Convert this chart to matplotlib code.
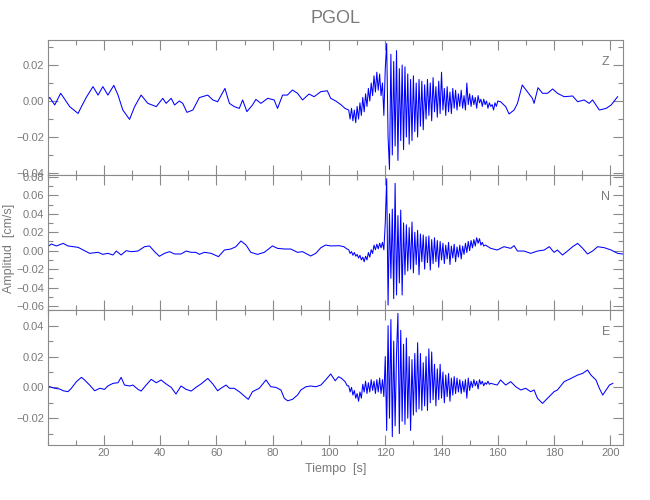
import numpy as np
import matplotlib
matplotlib.use("Agg")
import matplotlib.pyplot as plt
from matplotlib.ticker import MultipleLocator, FuncFormatter

# ---------------- data (values in 1e-3 cm/s) ----------------
station = "PGOL"
components = ["Z", "N", "E"]
burst_step = 0.5

z_pre_t = [0, 0.7, 2.5, 4.6, 6.1, 7.8, 10.8, 12.0, 13.7, 16.1, 17.9, 19.6, 21.4, 23.5, 25.0, 26.7, 29.1, 30.9, 33.2, 35.6,
           38.6, 40.9, 42.1, 43.9, 45.1, 46.8, 48.0, 49.5, 51.6, 53.9, 56.9, 58.7, 60.4, 63.0, 64.6, 66.3, 68.1, 69.3, 70.8, 72.8,
           74.0, 75.8, 78.2, 80.5, 81.7, 83.5, 85.2, 87.0, 88.8, 90.6, 92.9, 94.7, 97.1, 99.4, 100.6, 102.4, 104.2, 105.7]
z_pre_v = [0.6, 2.0, -2.2, 4.3, 0.9, -3.1, -6.9, -3.1, 2.0, 8.0, 3.3, 8.0, 3.3, 8.7, 3.3, -5.0, -10.2, -3.1, 3.3, -1.3,
           -3.1, 1.5, -1.3, 1.5, -2.2, 0.0, -1.3, -6.3, -5.0, 1.9, 3.3, 0.6, -0.4, 7.0, -1.3, -3.1, -4.1, 0.6, -5.9, -2.2,
           0.9, -1.3, 1.5, 0.6, -4.1, 3.3, 3.3, 6.1, 4.3, 0.6, 3.9, 2.4, 5.2, 5.7, 1.5, 0.0, -2.0, -4.1]
z_burst_start = 107.0
z_burst_v = [-5, -10, -4, -11, -5, -12, -3, -10, -1, -8,
             2, -6, 4, -3, 7, 0, 10, 3, 14, 5,
             16, 6, 15, 3, 10, -8, 18, 32, -20, -38,
             26, -30, 22, -25, 28, -33, 18, -22, 20, -27,
             19, -20, 15, -24, 12, -22, 14, -17, 10, -20,
             12, -14, 11, -16, 9, -10, 12, -8, 10, -11,
             13, -6, 8, -9, 11, -7, 16, -5, 7, -8,
             8, -6, 5, -7, 7, -4, 6, -5, 4, -3,
             6, -4, 3, -5, 10, -2, 4, -3, 3, -2,
             2, -4, 3, -1, 1, -3, 1, -2, 0, -4,
             -1, -3, -2, -5, -1, -3, 0]
z_post_t = [161.0, 162.8, 164.0, 165.8, 167.0, 168.7, 170.5, 172.3, 172.9, 174.3, 175.9, 177.7, 179.5, 181.2, 183.6,
            186.6, 188.4, 190.7, 192.5, 193.7, 196.1, 198.5, 200.3, 202.6]
z_post_v = [-0.4, -3.1, -7.2, -5.0, -1.3, 8.9, 5.2, 1.5, -1.3, 7.4, 4.3, 4.3, 6.7, 4.3, 2.4,
            2.8, -0.4, 0.6, -1.3, 0.6, -5.0, -4.1, -2.2, 2.4]

n_pre_t = [0, 1.3, 3.1, 5.5, 7.2, 9.0, 10.8, 12.6, 14.9, 17.9, 19.6, 21.4, 23.2, 24.4, 26.1, 27.9, 29.7, 32.1, 34.4, 36.2,
           38.0, 39.7, 41.5, 43.3, 45.1, 47.4, 49.2, 51.0, 52.7, 53.9, 55.7, 58.1, 60.7, 62.8, 65.1, 66.9, 68.7, 70.5, 72.2, 74.6,
           77.0, 79.9, 81.7, 84.1, 86.4, 88.8, 90.6, 93.5, 95.3, 97.1, 98.8, 100.6, 103.6, 105.3, 106.3]
n_pre_v = [4.3, 7.2, 5.1, 7.9, 5.1, 4.3, 3.6, 0.7, -2.9, -1.8, -4.0, -2.9, -4.7, -0.4, -4.7, 0.0, -1.1, -0.4, 4.3, 5.1,
           -1.1, -6.1, -2.9, -1.1, -3.6, -3.6, -0.4, -1.8, -1.8, -4.0, -1.8, -2.9, -6.5, 0.7, 1.8, 4.3, 10.5, 6.1, -1.8, -4.0,
           -1.8, 5.1, 2.5, 1.8, 1.8, -1.8, -1.1, -5.8, -2.9, 3.2, 6.1, 5.1, 5.4, 4.3, 2.0]
n_burst_start = 107.0
n_burst_v = [1, -3, -1, -5, -2, -6, -4, -8, -5, -10,
             -7, -12, -6, -10, -2, -7, 1, -3, 6, 1,
             7, 2, 8, 3, 9, 1, 30, 78, -59, 40,
             -30, 45, -52, 73, -48, 38, -35, 44, -48, 30,
             -26, 28, -22, 25, -20, 31, -24, 20, -15, 22,
             -26, 18, -12, 17, -20, 15, -13, 16, -21, 12,
             -14, 14, -12, 11, -18, 10, -10, 8, -14, 6,
             -9, 9, -15, 5, -8, 7, -12, 4, -7, 6,
             -9, 5, -4, 8, -2, 10, 0, 11, 3, 12,
             5, 14, 8, 13, 6, 9, 5]
n_post_t = [155.6, 157.5, 159.8, 162.2, 164.6, 165.8, 167.0, 169.3, 171.7, 174.1, 176.5, 178.3, 180.0, 181.2, 183.0,
            184.8, 186.6, 188.4, 190.2, 191.9, 193.7, 195.5, 197.9, 200.3, 202.6, 204.4]
n_post_v = [6.1, 2.5, 0.7, 4.3, 2.5, 5.4, -0.4, -0.4, -2.9, -0.4, 0.7, 4.3, -1.8, 0.7, -4.7,
            -0.4, 4.3, 7.9, 2.5, -3.6, -0.4, 4.3, 3.2, 0.7, -2.9, -3.6]

e_pre_t = [0, 0.7, 2.5, 4.3, 5.5, 7.2, 8.4, 10.2, 12.0, 13.1, 14.9, 16.7, 18.5, 20.2, 21.4, 23.2, 25.0, 26.1, 27.3, 29.1,
           30.3, 32.1, 33.2, 35.0, 36.8, 38.6, 40.3, 42.1, 43.9, 45.6, 47.4, 49.2, 51.0, 52.7, 54.5, 56.9, 58.7, 60.4, 61.6, 63.4,
           64.6, 66.3, 68.1, 69.9, 71.3, 72.8, 75.2, 77.6, 79.3, 81.1, 82.9, 84.1, 85.3, 87.0, 88.8, 90.0, 91.8, 93.5, 95.3, 97.1,
           98.8, 100.6, 102.2, 103.4, 104.5, 105.7, 106.5]
e_pre_v = [0.9, 0.4, -0.6, -1.1, -2.2, -2.8, -0.6, 3.7, 6.5, 4.8, 1.5, -2.2, -0.6, -1.3, 0.9, 2.6, 3.0, 6.5, 1.5, 0.9,
           1.5, -1.3, -2.4, 1.5, 5.2, 3.0, 4.8, 2.2, 0.0, -4.3, 0.9, -1.3, -2.4, 0.0, 2.2, 5.8, 2.2, -2.2, -0.6, 1.5,
           -0.6, -0.6, -2.8, -5.6, -7.8, -2.8, -0.6, 4.8, 0.4, 0.0, -1.7, -7.1, -8.7, -7.8, -5.0, -1.7, 0.4, 0.9, 0.4, 1.5,
           4.8, 8.7, 4.3, 6.9, 5.8, 3.7, 1.0]
e_burst_start = 107.0
e_burst_v = [1, -3, 0, -5, -2, -7, -4, -9, -3, -7,
             2, -3, 4, -4, 3, -3, 5, -2, 4, -4,
             5, -3, 6, -4, 5, -6, 20, -28, 40, -20,
             44, -32, 30, -25, 22, 48, -30, 37, -22, 28,
             -24, 32, -20, 20, -28, 18, -18, 22, -16, 29,
             -14, 22, -15, 16, -12, 20, -15, 25, -10, 23,
             -8, 15, -12, 12, -8, 15, -7, 10, -10, 8,
             -6, 9, -9, 6, -5, 7, -4, 6, -3, 5,
             -4, 4, -3, 5, -7, 6, -2, 4, 0, 5,
             1, 4, -1, 5, 2, 4, 1, 3, 2, 4,
             2]
e_post_t = [157.5, 159.8, 161.0, 162.8, 164.6, 166.4, 168.2, 169.9, 171.7, 172.9, 174.1, 175.9, 177.7, 180.0, 181.2,
            183.6, 186.0, 188.4, 190.2, 191.9, 193.1, 194.9, 196.1, 197.3, 198.5, 199.7, 200.9]
e_post_v = [2.6, 1.5, 4.8, 1.5, 3.7, 0.4, -1.7, -0.6, -2.8, -1.7, -7.1, -10.4, -7.1, -2.8, -1.7,
            3.7, 5.8, 8.0, 9.1, 11.3, 8.0, 4.8, -0.6, -5.0, -1.7, 1.5, 2.6]

ylims = [(-0.0411, 0.0339), (-0.0643, 0.082), (-0.0374, 0.0502)]
xlim = (0, 204.5)
x_major = [20, 40, 60, 80, 100, 120, 140, 160, 180, 200]


def assemble(pre_t, pre_v, b_start, b_v, post_t, post_v):
    bt = b_start + burst_step * np.arange(len(b_v))
    t = np.concatenate([pre_t, bt, post_t])
    v = np.concatenate([pre_v, b_v, post_v]) * 1e-3
    return t, v


traces = [
    assemble(z_pre_t, z_pre_v, z_burst_start, z_burst_v, z_post_t, z_post_v),
    assemble(n_pre_t, n_pre_v, n_burst_start, n_burst_v, n_post_t, n_post_v),
    assemble(e_pre_t, e_pre_v, e_burst_start, e_burst_v, e_post_t, e_post_v),
]

# ---------------- style ----------------
plt.rcParams['font.family'] = ['Liberation Sans Narrow', 'Liberation Sans', 'DejaVu Sans']
gray = '#8a8a8a'
tcol = '#7a7a7a'

fig = plt.figure(figsize=(6.5, 5.0), dpi=100)
left, width = 0.0734, 0.885
bottoms = [0.65, 0.38, 0.11]
height = 0.27


def fmt(x, pos):
    s = f"{x:.2f}"
    if s == "-0.00":
        s = "0.00"
    return s.replace('-', '\u2212')


for i, (comp, (t, v)) in enumerate(zip(components, traces)):
    ax = fig.add_axes([left, bottoms[i], width, height])
    ax.plot(t, v, color='#0000ff', lw=0.75)
    ax.set_xlim(*xlim)
    ax.set_ylim(*ylims[i])
    ax.set_xticks(x_major)
    ax.xaxis.set_minor_locator(MultipleLocator(10))
    ax.yaxis.set_major_locator(MultipleLocator(0.02))
    ax.yaxis.set_minor_locator(MultipleLocator(0.01))
    ax.yaxis.set_major_formatter(FuncFormatter(fmt))
    ax.tick_params(which='both', direction='in', top=True, right=True, colors=gray,
                   labelcolor=tcol, labelsize=8, width=0.8, pad=2.5)
    ax.tick_params(which='major', length=7)
    ax.tick_params(which='minor', length=3.5)
    for sp in ax.spines.values():
        sp.set_color(gray)
        sp.set_linewidth(0.8)
    if i < 2:
        ax.tick_params(labelbottom=False)
    ax.text(0.97, 0.84, comp, transform=ax.transAxes, color=tcol, fontsize=9,
            ha='center', va='center')
    if i == 0:
        ax.set_title(station, color=tcol, fontsize=13, pad=12)
    if i == 2:
        ax.set_xlabel("Tiempo  [s]", color=tcol, fontsize=9, labelpad=3)

fig.text(9 / 650, 1 - 248 / 500, "Amplitud  [cm/s]", rotation=90, color=tcol,
         fontsize=9, ha='center', va='center')

fig.savefig("out.png", dpi=100)
